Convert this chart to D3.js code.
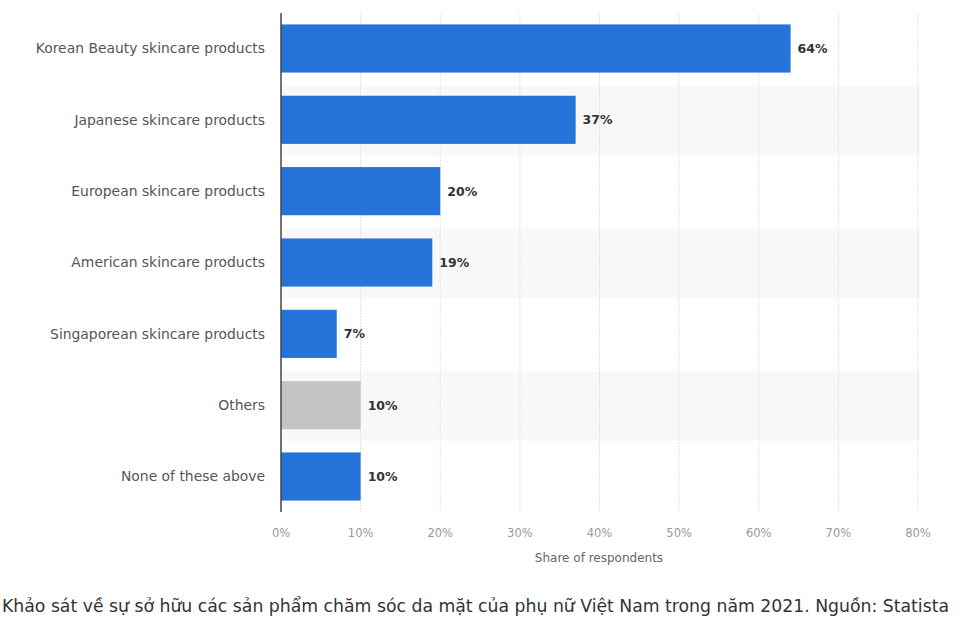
<!DOCTYPE html>
<html><head><meta charset="utf-8">
<script src="https://cdn.jsdelivr.net/npm/d3@7"></script>
<style>html,body{margin:0;padding:0;background:#fff;}</style>
</head><body>
<svg id="c" width="970" height="626"></svg>
<script>
const categories = ["Korean Beauty skincare products","Japanese skincare products","European skincare products","American skincare products","Singaporean skincare products","Others","None of these above"];
const values = [64, 37, 20, 19, 7, 10, 10];
const barColors = ["#2574da","#2574da","#2574da","#2574da","#2574da","#c4c4c4","#2574da"];
const ticks = [0,10,20,30,40,50,60,70,80];
const axisTitle = "Share of respondents";
const caption = "Khảo sát về sự sở hữu các sản phẩm chăm sóc da mặt của phụ nữ Việt Nam trong năm 2021. Nguồn: Statista";

const svg = d3.select("#c");
const x = d3.scaleLinear().domain([0,80]).range([281,918]);
const y = d3.scaleBand().domain(categories).range([13,512]).paddingInner(0.325).paddingOuter(0.16);
const yb = d3.scaleBand().domain(categories).range([13,512]);

// alternating row bands
svg.append("g").selectAll("rect").data(categories.filter((d,i)=>i%2===1)).join("rect")
  .attr("x", x(0)).attr("width", x(80)-x(0)+2)
  .attr("y", d=>yb(d)+2).attr("height", yb.bandwidth()-2)
  .attr("fill","#f8f8f8");

// gridlines
svg.append("g").selectAll("line").data(ticks.slice(1)).join("line")
  .attr("x1", d=>x(d)).attr("x2", d=>x(d)).attr("y1",13).attr("y2",512)
  .attr("stroke","#e2e2e2").attr("stroke-width",1).attr("stroke-dasharray","2,1");

// bars
svg.append("g").selectAll("rect").data(values).join("rect")
  .attr("x", x(0)).attr("y",(d,i)=>y(categories[i]))
  .attr("width", d=>x(d)-x(0)).attr("height", y.bandwidth())
  .attr("fill",(d,i)=>barColors[i]);

// y axis line
svg.append("line").attr("x1",x(0)).attr("x2",x(0)).attr("y1",13).attr("y2",512)
  .attr("stroke","#444").attr("stroke-width",1.5);

// category labels
svg.append("g").selectAll("text").data(categories).join("text")
  .attr("x",265).attr("y",d=>y(d)+y.bandwidth()/2).attr("dy","0.35em")
  .attr("text-anchor","end").attr("font-family","'DejaVu Sans', Verdana, sans-serif")
  .attr("font-size",13.9).attr("fill","#555").text(d=>d);

// value labels
svg.append("g").selectAll("text").data(values).join("text")
  .attr("x",d=>x(d)+7).attr("y",(d,i)=>y(categories[i])+y.bandwidth()/2).attr("dy","0.35em")
  .attr("font-family","'DejaVu Sans', Verdana, sans-serif").attr("font-weight","bold")
  .attr("font-size",12.5).attr("fill","#333").text(d=>d+"%");

// x tick labels
svg.append("g").selectAll("text").data(ticks).join("text")
  .attr("x",d=>x(d)).attr("y",537).attr("text-anchor","middle")
  .attr("font-family","'DejaVu Sans', Verdana, sans-serif").attr("font-size",11.5)
  .attr("fill","#999").text(d=>d+"%");

svg.append("text").attr("x",599).attr("y",562).attr("text-anchor","middle")
  .attr("font-family","'DejaVu Sans', Verdana, sans-serif").attr("font-size",12)
  .attr("fill","#666").text(axisTitle);

svg.append("text").attr("x",2).attr("y",612)
  .attr("font-family","'DejaVu Sans Condensed', 'DejaVu Sans', sans-serif").attr("font-size",17)
  .attr("fill","#333").attr("textLength",947).attr("lengthAdjust","spacingAndGlyphs").text(caption);
</script>
</body></html>
